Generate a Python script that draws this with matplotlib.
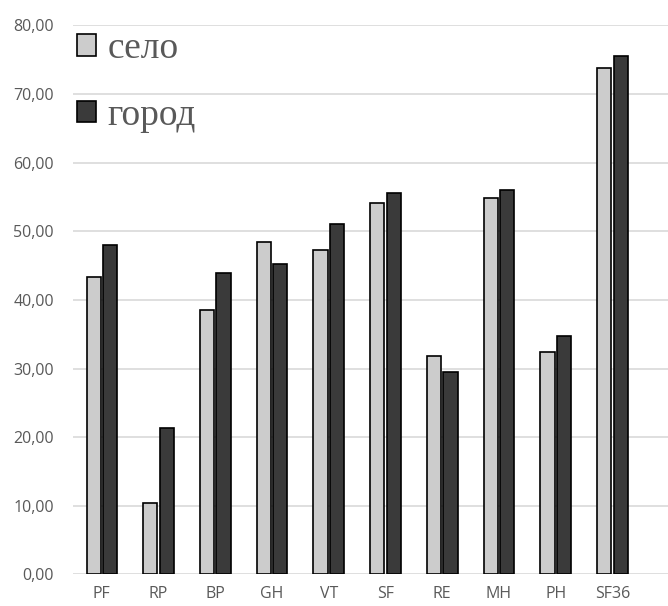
import matplotlib.pyplot as plt
import numpy as np
from matplotlib.ticker import FuncFormatter

categories = ["PF", "RP", "BP", "GH", "VT", "SF", "RE", "MH", "PH", "SF36"]
selo = [43.3, 10.4, 38.5, 48.5, 47.3, 54.1, 31.9, 54.9, 32.4, 73.8]
gorod = [48.0, 21.3, 43.9, 45.2, 51.0, 55.6, 29.5, 56.0, 34.7, 75.6]

fig = plt.figure(figsize=(6.68, 6.06), dpi=100)
ax = fig.add_axes([0.110, 0.052, 0.890, 0.906])

x = np.arange(len(categories))
w = 0.25
ax.bar(x - 0.145, selo, w, color="#cccccc", edgecolor="black", linewidth=1.2,
       label="село", zorder=3)
ax.bar(x + 0.145, gorod, w, color="#3a3a3a", edgecolor="black", linewidth=1.2,
       label="город", zorder=3)

ax.set_ylim(0, 80)
ax.set_xlim(-0.5, 9.98)
ax.set_yticks(np.arange(0, 81, 10))
ax.yaxis.set_major_formatter(FuncFormatter(lambda v, p: f"{v:.2f}".replace(".", ",")))
ax.set_xticks(x)
ax.set_xticklabels(categories)

ax.grid(axis="y", color="#d9d9d9", linewidth=1.2, zorder=0)
for s in ax.spines.values():
    s.set_visible(False)
ax.tick_params(length=0, labelsize=11.5, labelcolor="#595959")
ax.tick_params(axis="y", pad=14)
ax.tick_params(axis="x", pad=8)
for t in ax.get_xticklabels() + ax.get_yticklabels():
    t.set_family("Open Sans")

leg = ax.legend(loc="upper left", bbox_to_anchor=(0.0, 0.995), frameon=False,
                prop={"family": "Liberation Serif", "size": 27},
                handlelength=0.5, handleheight=0.5, handletextpad=0.3,
                labelspacing=0.85, borderaxespad=0.0, borderpad=0.1)
for t in leg.get_texts():
    t.set_color("#595959")

fig.savefig("out.png", dpi=100)
